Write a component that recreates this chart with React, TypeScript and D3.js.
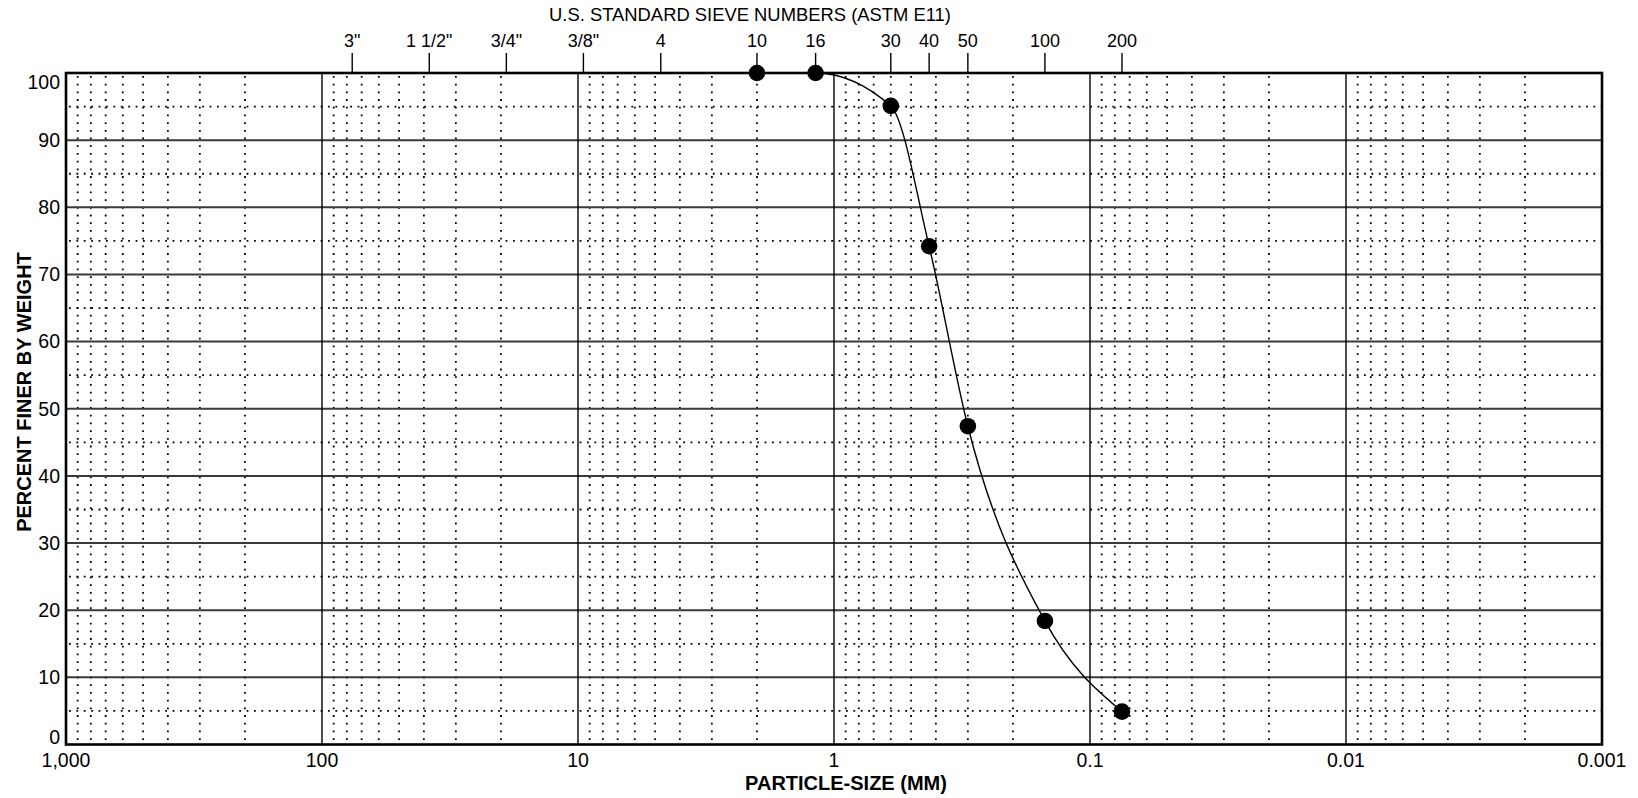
import React, { useEffect } from "react";
import * as d3 from "d3";

// ---- data ----
const sieveLabels = ['3"', '1 1/2"', '3/4"', '3/8"', "4", "10", "16", "30", "40", "50", "100", "200"];
const sieveSizesMm = [76.2, 38.1, 19.05, 9.525, 4.75, 2.0, 1.18, 0.6, 0.425, 0.3, 0.15, 0.075];
const sampleSizesMm = [2.0, 1.18, 0.6, 0.425, 0.3, 0.15, 0.075];
const percentFiner = [100, 100, 95.1, 74.2, 47.4, 18.4, 4.9];
const xTickValues = [1000, 100, 10, 1, 0.1, 0.01, 0.001];
const xTickLabels = ["1,000", "100", "10", "1", "0.1", "0.01", "0.001"];
const yTickValues = [0, 10, 20, 30, 40, 50, 60, 70, 80, 90, 100];
const yMinorValues = [5, 15, 25, 35, 45, 55, 65, 75, 85, 95];
const minorMultipliers = [2, 3, 4, 5, 6, 7, 8, 9];

const W = 1638;
const H = 798;
const LEFT = 66;
const RIGHT = 1602;
const TOP = 73;
const BOTTOM = 744.5;
const FONT = "'Liberation Sans', Arial, Helvetica, sans-serif";

export default function App() {
  useEffect(() => {
    document.body.style.margin = "0";
  }, []);

  const x = d3.scaleLog().domain([1000, 0.001]).range([LEFT, RIGHT]);
  const y = d3.scaleLinear().domain([0, 100]).range([BOTTOM, TOP]);

  const minorX: number[] = [];
  for (let d = 0.001; d < 1000; d *= 10) {
    minorMultipliers.forEach((m) => minorX.push(+(m * d).toPrecision(6)));
  }

  const pts: [number, number][] = sampleSizesMm.map((s, i) => [x(s), y(percentFiner[i])]);
  const line = d3.line().curve(d3.curveMonotoneX)(pts) || "";

  const clampY = (v: number) => Math.max(TOP + 9, Math.min(BOTTOM - 7, y(v)));

  return (
    <svg
      width={W}
      height={H}
      style={{ position: "fixed", left: 0, top: 0, background: "#fff" }}
      fontFamily={FONT}
    >
      <rect x={0} y={0} width={W} height={H} fill="#fff" />
      {/* minor dotted verticals */}
      {minorX.map((v, i) => (
        <line
          key={"mx" + i}
          x1={x(v)}
          x2={x(v)}
          y1={TOP + 3}
          y2={BOTTOM}
          stroke="#000"
          strokeWidth={1.8}
          strokeDasharray="1.8 5.9"
        />
      ))}
      {/* minor dotted horizontals */}
      {yMinorValues.map((v) => (
        <line
          key={"my" + v}
          x1={LEFT + 3}
          x2={RIGHT}
          y1={y(v)}
          y2={y(v)}
          stroke="#000"
          strokeWidth={1.8}
          strokeDasharray="1.8 5.6"
        />
      ))}
      {/* major horizontals */}
      {yTickValues.slice(1, -1).map((v) => (
        <line key={"gy" + v} x1={LEFT} x2={RIGHT} y1={y(v)} y2={y(v)} stroke="#3a3a3a" strokeWidth={2} />
      ))}
      {/* major verticals */}
      {xTickValues.slice(1, -1).map((v) => (
        <line key={"gx" + v} x1={x(v)} x2={x(v)} y1={TOP} y2={BOTTOM} stroke="#000" strokeWidth={1.4} />
      ))}
      {/* border */}
      <rect x={LEFT} y={TOP} width={RIGHT - LEFT} height={BOTTOM - TOP} fill="none" stroke="#000" strokeWidth={2.6} />

      {/* top sieve ticks */}
      {sieveSizesMm.map((s, i) => (
        <g key={"s" + i}>
          <line x1={x(s)} x2={x(s)} y1={TOP - 20} y2={TOP} stroke="#000" strokeWidth={1.4} />
          <text x={x(s)} y={47} textAnchor="middle" fontSize={18} fill="#000">
            {sieveLabels[i]}
          </text>
        </g>
      ))}
      <text x={750} y={21} textAnchor="middle" fontSize={18.4} fill="#000">
        U.S. STANDARD SIEVE NUMBERS (ASTM E11)
      </text>

      {/* y ticks */}
      {yTickValues.map((v) => (
        <text key={"yt" + v} x={60} y={clampY(v)} dy="0.35em" textAnchor="end" fontSize={19.5} fill="#000">
          {v}
        </text>
      ))}
      {/* x ticks */}
      {xTickValues.map((v, i) => (
        <text key={"xt" + v} x={x(v)} y={767} textAnchor="middle" fontSize={19.5} fill="#000">
          {xTickLabels[i]}
        </text>
      ))}

      <text
        transform={`translate(24,392) rotate(-90)`}
        textAnchor="middle"
        dy="0.35em"
        fontSize={20}
        fontWeight="bold"
        fill="#000"
      >
        PERCENT FINER BY WEIGHT
      </text>
      <text x={846} y={790} textAnchor="middle" fontSize={20} fontWeight="bold" fill="#000">
        PARTICLE-SIZE (MM)
      </text>

      {/* curve */}
      <path d={line} fill="none" stroke="#000" strokeWidth={1.4} />
      {pts.map((p, i) => (
        <circle key={"p" + i} cx={p[0]} cy={p[1]} r={8.3} fill="#000" />
      ))}
    </svg>
  );
}
